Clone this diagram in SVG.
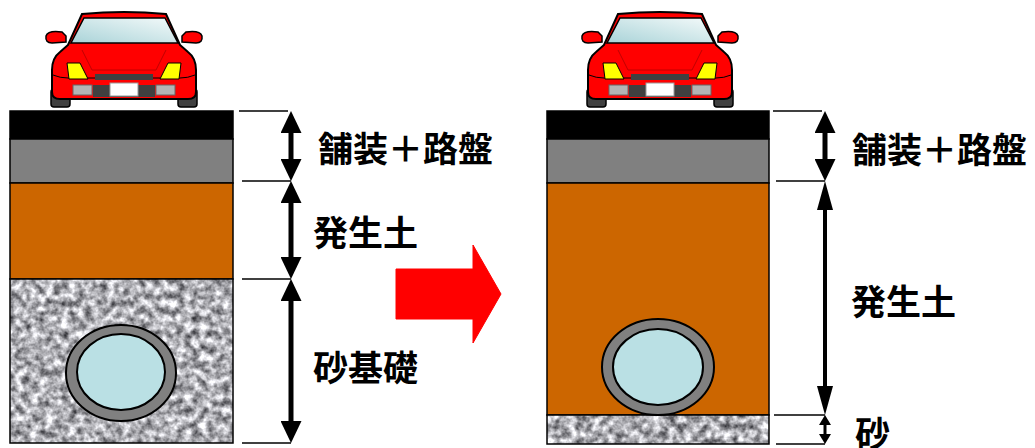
<svg xmlns="http://www.w3.org/2000/svg" width="1035" height="448" viewBox="0 0 1035 448">
<style>
.lbl{font-family:"Noto Sans CJK JP","Noto Sans",sans-serif;font-size:35px;font-weight:700;fill:#000;dominant-baseline:central}
.lay{stroke:#000;stroke-width:1.5}
.tick{stroke:#000;stroke-width:1.5;fill:none}
.shaft{stroke:#000;stroke-width:5;fill:none}
.blk{fill:#000}
.gry{fill:#808080}
.org{fill:#CC6600}
.pipeO{fill:#808080;stroke:#000;stroke-width:2}
.pipeI{fill:#BAE0E4;stroke:#000;stroke-width:2}
</style>
<defs>
<filter id="gravel" x="0" y="0" width="100%" height="100%" color-interpolation-filters="sRGB">
<feTurbulence type="fractalNoise" baseFrequency="0.13" numOctaves="3" seed="7" result="n"/>
<feColorMatrix in="n" type="matrix" values="1.25 0 0 0 0.06  1.25 0 0 0 0.06  1.25 0 0 0 0.08  0 0 0 0 1" result="g"/>
<feComposite in="g" in2="SourceGraphic" operator="in"/>
</filter>
<marker id="ah" viewBox="0 0 22 21" refX="0" refY="10.5" markerWidth="22" markerHeight="21" markerUnits="userSpaceOnUse" orient="auto-start-reverse"><path d="M0,0 L22,10.5 L0,21 Z" fill="#000"/></marker>
<marker id="ah2" viewBox="0 0 29 16" refX="0" refY="8" markerWidth="29" markerHeight="16" markerUnits="userSpaceOnUse" orient="auto-start-reverse"><path d="M0,0 L29,8 L0,16 Z" fill="#000"/></marker>
<marker id="ah3" viewBox="0 0 10 12" refX="0" refY="6" markerWidth="10" markerHeight="12" markerUnits="userSpaceOnUse" orient="auto-start-reverse"><path d="M0,0 L10,6 L0,12 Z" fill="#000"/></marker>
<linearGradient id="glass" x1="0" y1="1" x2="1" y2="0">
<stop offset="0" stop-color="#A9D3D8"/><stop offset="1" stop-color="#F4FAFA"/>
</linearGradient>
<g id="car">
<rect x="51" y="89" width="19" height="18" rx="3" fill="#404040" stroke="#000" stroke-width="1.5"/>
<rect x="178" y="89" width="19" height="18" rx="3" fill="#404040" stroke="#000" stroke-width="1.5"/>
<path d="M66,36 L62,32 Q48,30 46,36 Q45,43 52,43 L66,42 Z" fill="#FF0000" stroke="#000" stroke-width="1.5"/>
<path d="M182,36 L186,32 Q200,30 202,36 Q203,43 196,43 L182,42 Z" fill="#FF0000" stroke="#000" stroke-width="1.5"/>
<path d="M82,14 Q124,10 166,14 L180,45 L188,52 Q196,58 196,70 L196,92 Q196,99 188,99 L60,99 Q52,99 52,92 L52,70 Q52,58 60,52 L68,45 Z" fill="#FF0000" stroke="#000" stroke-width="2"/>
<path d="M84,18 L165,18 L178,43 L71,43 Z" fill="url(#glass)" stroke="#000" stroke-width="1.5"/>
<path d="M82,50 L92,70 L156,70 L166,50" fill="none" stroke="#C00000" stroke-width="1"/>
<path d="M53,75 Q60,78 68,78 L180,78 Q188,78 195,75" fill="none" stroke="#000" stroke-width="1"/>
<path d="M67,63 L80,63 L88,79 L69,79 Z" fill="#FFFF00" stroke="#000" stroke-width="1"/>
<path d="M181,63 L168,63 L160,79 L179,79 Z" fill="#FFFF00" stroke="#000" stroke-width="1"/>
<rect x="95" y="74" width="58" height="6" fill="#404040"/>
<rect x="93" y="85" width="62" height="12" fill="#404040"/>
<rect x="110" y="83" width="28" height="13" fill="#FFFFFF" stroke="#999" stroke-width="1"/>
<rect x="73" y="85" width="19" height="10" fill="#B4B4B4" stroke="#666" stroke-width="1"/>
<rect x="156" y="85" width="19" height="10" fill="#B4B4B4" stroke="#666" stroke-width="1"/>
</g>
</defs>
<rect width="1035" height="448" fill="#fff"/>

<g id="car-left"><use href="#car"/></g>
<g id="car-right"><use href="#car" transform="translate(536,0)"/></g>

<g id="section-before">
<rect x="10" y="111" width="223" height="28" class="blk lay"/>
<rect x="10" y="139" width="223" height="44" class="gry lay"/>
<rect x="10" y="183" width="223" height="96" class="org lay"/>
<rect x="10" y="279" width="223" height="164" fill="#999" filter="url(#gravel)"/>
<rect x="10" y="279" width="223" height="164" fill="none" class="lay"/>
<ellipse cx="121" cy="373" rx="55" ry="48" class="pipeO"/>
<ellipse cx="121" cy="372" rx="44" ry="38" class="pipeI"/>
</g>

<g id="section-after">
<rect x="547" y="111" width="222" height="28" class="blk lay"/>
<rect x="547" y="139" width="222" height="44" class="gry lay"/>
<rect x="547" y="183" width="222" height="232" class="org lay"/>
<rect x="547" y="415" width="222" height="29" fill="#999" filter="url(#gravel)"/>
<rect x="547" y="415" width="222" height="29" fill="none" class="lay"/>
<ellipse cx="658" cy="367" rx="56" ry="48" class="pipeO"/>
<ellipse cx="658" cy="367" rx="45" ry="38" class="pipeI"/>
</g>

<g id="transition-arrow">
<path d="M396,269 L473,269 L473,245 L501,294 L473,343 L473,319 L396,319 Z" fill="#FF0000" stroke="#FF0000" stroke-width="1" stroke-linejoin="round"/>
</g>

<g id="connectors">
<line x1="239" y1="111" x2="288" y2="111" class="tick"/>
<line x1="242" y1="181" x2="291" y2="181" class="tick"/>
<line x1="242" y1="279" x2="291" y2="279" class="tick"/>
<line x1="242" y1="443" x2="291" y2="443" class="tick"/>
<line x1="291" y1="133" x2="291" y2="159" class="shaft" marker-start="url(#ah)" marker-end="url(#ah)"/>
<line x1="291" y1="203" x2="291" y2="257" class="shaft" marker-start="url(#ah)" marker-end="url(#ah)"/>
<line x1="291" y1="301" x2="291" y2="421" class="shaft" marker-start="url(#ah)" marker-end="url(#ah)"/>

<line x1="773" y1="111" x2="822" y2="111" class="tick"/>
<line x1="776" y1="181" x2="825" y2="181" class="tick"/>
<line x1="774" y1="415" x2="825" y2="415" class="tick"/>
<line x1="776" y1="444" x2="825" y2="444" class="tick"/>
<line x1="825" y1="133" x2="825" y2="159" class="shaft" marker-start="url(#ah)" marker-end="url(#ah)"/>
<line x1="825" y1="210" x2="825" y2="386" class="shaft" style="stroke-width:4" marker-start="url(#ah2)" marker-end="url(#ah2)"/>
<line x1="825" y1="425" x2="825" y2="434" class="shaft" style="stroke-width:3" marker-start="url(#ah3)" marker-end="url(#ah3)"/>
</g>

<g id="labels">
<text x="318" y="146" class="lbl">舗装＋路盤</text>
<text x="313" y="230" class="lbl">発生土</text>
<text x="313" y="365" class="lbl">砂基礎</text>
<text x="852" y="147" class="lbl">舗装＋路盤</text>
<text x="851" y="299" class="lbl">発生土</text>
<text x="855" y="431" class="lbl">砂</text>
</g>
</svg>
